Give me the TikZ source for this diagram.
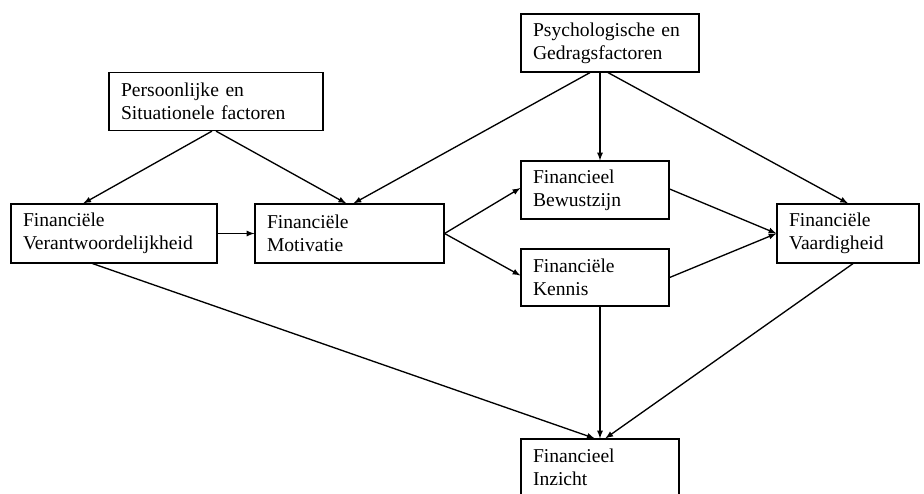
\documentclass[tikz,border=0pt]{standalone}
\usepackage{fontspec}
\setmainfont{Liberation Serif}
\usepackage{tikz}
\usetikzlibrary{arrows}

\begin{document}
\begin{tikzpicture}[x=0.75pt,y=0.75pt,yscale=-1,xscale=1,
  blok/.style={draw, line width=0.9pt, align=left, inner xsep=9pt, inner ysep=3pt,
    minimum height=43.5pt, text width=#1, font=\fontsize{14.7}{17.25}\selectfont},
  pijl/.style={-latex, line width=1pt}]
\useasboundingbox (0,0) rectangle (924,493);

% Text Node
\node [blok=142.5pt] (pers) at (216,101.5) {Persoonlijke en\\Situationele factoren};
% Text Node
\node [blok=115.5pt, minimum height=43.5pt] (psych) at (610,43) {Psychologische en\\Gedragsfactoren};
% Text Node
\node [blok=136.5pt, minimum height=44.25pt] (verant) at (114,233.5) {Financiële\\Verantwoordelijkheid};
% Text Node
\node [blok=123.75pt, minimum height=44.25pt] (motiv) at (349.5,233.5) {Financiële\\Motivatie};
% Text Node
\node [blok=93pt] (bewust) at (595,190) {Financieel\\Bewustzijn};
% Text Node
\node [blok=93pt, minimum height=42.75pt] (kennis) at (595,277.5) {Financiële\\Kennis};
% Text Node
\node [blok=88.5pt, minimum height=44.25pt] (vaard) at (848,233.5) {Financiële\\Vaardigheid};
% Text Node
\node [blok=100.5pt, minimum height=42.75pt] (inzicht) at (600,467.5) {Financieel\\Inzicht};

%Straight Lines
\draw [pijl] ([xshift=-3pt]pers.south) -- ([xshift=-23pt]verant.north);
\draw [pijl] (pers.south) -- ([xshift=-2.5pt]motiv.north);
\draw [pijl] ([xshift=-15pt]psych.south) -- ([xshift=3pt]motiv.north);
\draw [pijl] ([xshift=-7.5pt]psych.south) -- ([xshift=3.75pt]bewust.north);
\draw [pijl] ([xshift=-1.5pt]psych.south) -- (vaard.north);
\draw [pijl] (verant.east) -- (motiv.west);
\draw [pijl] (motiv.east) -- ([yshift=-1.5pt]bewust.west);
\draw [pijl] (motiv.east) -- ([yshift=-1.5pt]kennis.west);
\draw [pijl] ([yshift=-0.75pt]bewust.east) -- (vaard.west);
\draw [pijl] (kennis.east) -- (vaard.west);
\draw [pijl] ([xshift=-16pt]verant.south) -- ([xshift=-4pt]inzicht.north);
\draw [pijl] (kennis.south -| inzicht.north) -- (inzicht.north);
\draw [pijl] ([xshift=3.75pt]vaard.south) -- ([xshift=4pt]inzicht.north);

\end{tikzpicture}
\end{document}
